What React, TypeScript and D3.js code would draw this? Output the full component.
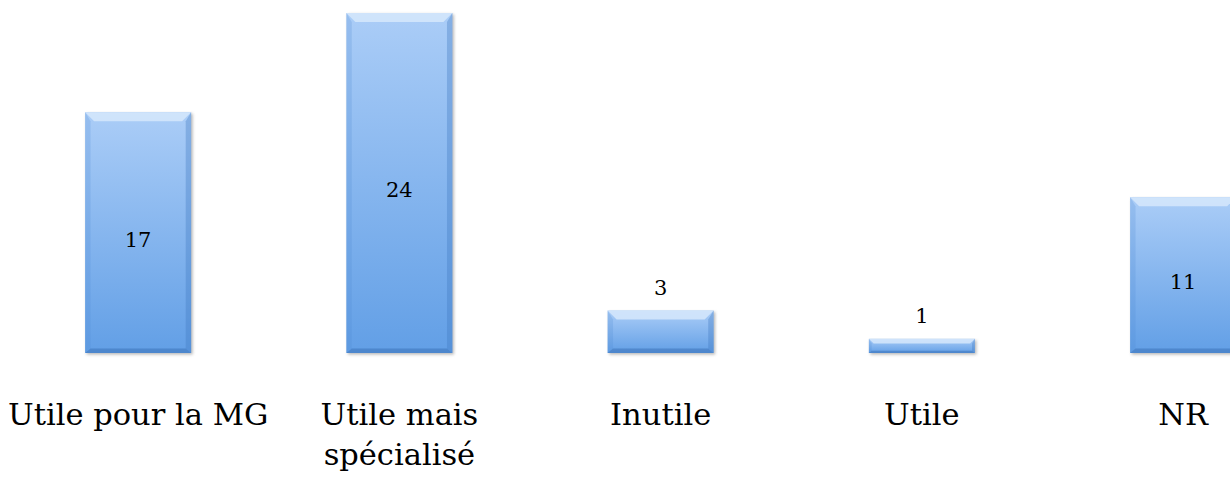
import React from "react";
import * as d3 from "d3";

const categories: string[][] = [
  ["Utile pour la MG"],
  ["Utile mais", "spécialisé"],
  ["Inutile"],
  ["Utile"],
  ["NR"],
];
const values: number[] = [17, 24, 3, 1, 11];
const labelInside: boolean[] = [true, true, false, false, true];

const W = 1230;
const H = 477;
const BAR_W = 106;

export default function App() {
  const keys = categories.map((c) => c.join(" "));
  const x = d3.scaleBand<string>().domain(keys).range([7.5, 7.5 + 261.25 * 5]).padding(0);
  const y = d3.scaleLinear().domain([0, 24]).range([353, 13]);
  const step = x.step();
  const font = "'DejaVu Serif', serif";

  return (
    <svg width={W} height={H} style={{ position: "absolute", left: 0, top: 0, background: "#fff" }}>
      <defs>
        <linearGradient id="body" x1="0" y1="0" x2="0" y2="1">
          <stop offset="0" stopColor="#abcdf7" />
          <stop offset="1" stopColor="#629fe6" />
        </linearGradient>
        <filter id="shadow" x="-10%" y="-10%" width="130%" height="130%">
          <feGaussianBlur stdDeviation="1.5" />
        </filter>
      </defs>
      {values.map((v, i) => {
        const cx = (x(keys[i]) as number) + step / 2;
        const bx = cx - BAR_W / 2;
        const by = y(v);
        const bh = y(0) - by;
        const bw = BAR_W;
        const b = Math.min(9, bh / 3);
        const pts = (arr: number[][]) => arr.map((p) => p.join(",")).join(" ");
        return (
          <g key={i}>
            <rect x={bx + 1.5} y={by + 1.5} width={bw} height={bh} fill="#888" opacity={0.6} filter="url(#shadow)" />
            <rect x={bx} y={by} width={bw} height={bh} fill="url(#body)" />
            <polygon
              points={pts([[bx, by], [bx + bw, by], [bx + bw - b, by + b], [bx + b, by + b]])}
              fill="#d6e7fc"
              opacity={0.85}
            />
            <polygon
              points={pts([[bx, by], [bx + b * 0.6, by + b], [bx + b * 0.6, by + bh - b * 0.5], [bx, by + bh]])}
              fill="#4f8ad2"
              opacity={0.22}
            />
            <polygon
              points={pts([[bx + bw, by], [bx + bw - b * 0.6, by + b], [bx + bw - b * 0.6, by + bh - b * 0.5], [bx + bw, by + bh]])}
              fill="#3f78c0"
              opacity={0.35}
            />
            <polygon
              points={pts([[bx, by + bh], [bx + bw, by + bh], [bx + bw - b * 0.6, by + bh - b * 0.5], [bx + b * 0.6, by + bh - b * 0.5]])}
              fill="#3c73b8"
              opacity={0.55}
            />
            <text
              x={cx}
              y={labelInside[i] ? (by + y(0)) / 2 + 14 : by - 16}
              textAnchor="middle"
              fontFamily={font}
              fontSize={21}
              fill="#000"
            >
              {v}
            </text>
            {categories[i].map((line, j) => (
              <text
                key={j}
                x={cx}
                y={425 + j * 40}
                textAnchor="middle"
                fontFamily={font}
                fontSize={30.5}
                fill="#000"
              >
                {line}
              </text>
            ))}
          </g>
        );
      })}
    </svg>
  );
}
